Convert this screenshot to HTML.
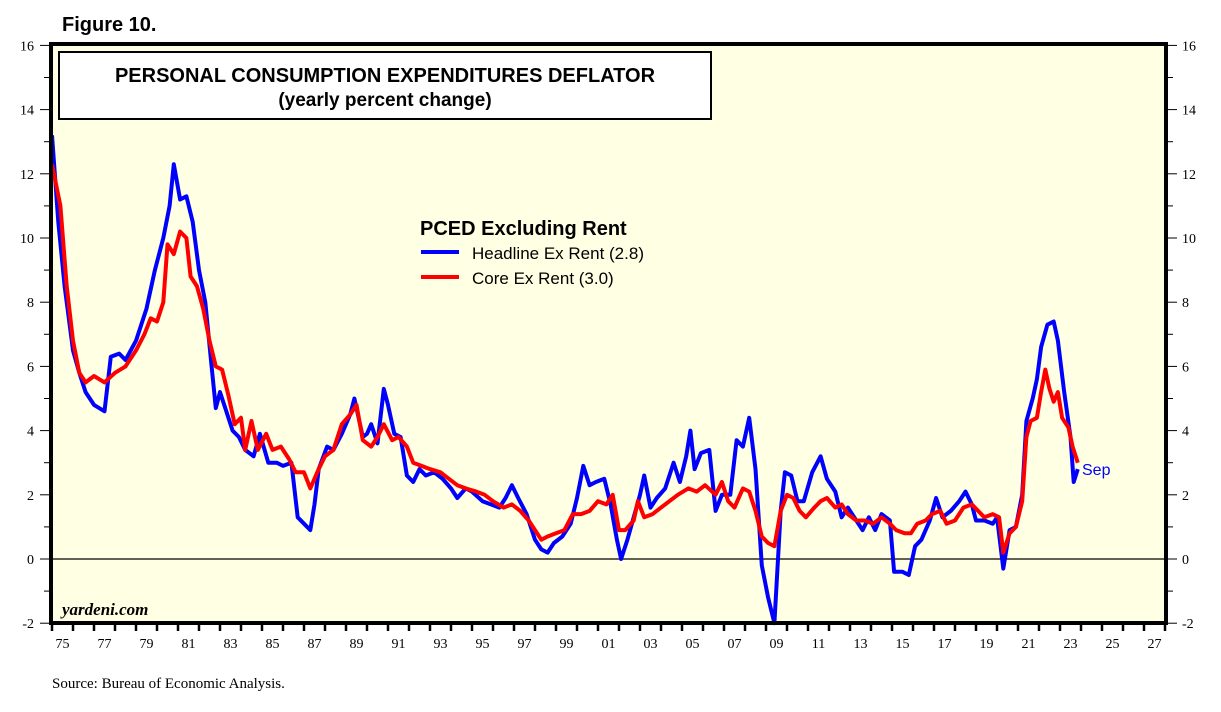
<!DOCTYPE html>
<html><head><meta charset="utf-8"><style>
body{margin:0;background:#fff;width:1221px;height:712px;overflow:hidden}
svg{display:block}
</style></head><body>
<svg id="chart" width="1221" height="712" xmlns="http://www.w3.org/2000/svg">
<rect x="51" y="44" width="1115" height="579" fill="#FFFFE3"/>
<g id="grid"></g>
<g id="series"></g>
<rect x="51" y="44" width="1115" height="579" fill="none" stroke="#000" stroke-width="4"/>
<g id="axes"></g>
<text x="62" y="31" font-family="Liberation Sans, sans-serif" font-weight="bold" font-size="20">Figure 10.</text>
<rect x="59" y="52" width="652" height="67" fill="#fff" stroke="#000" stroke-width="2"/>
<text x="385" y="82" text-anchor="middle" font-family="Liberation Sans, sans-serif" font-weight="bold" font-size="20">PERSONAL CONSUMPTION EXPENDITURES DEFLATOR</text>
<text x="385" y="106" text-anchor="middle" font-family="Liberation Sans, sans-serif" font-weight="bold" font-size="19">(yearly percent change)</text>
<text x="420" y="235" font-family="Liberation Sans, sans-serif" font-weight="bold" font-size="20">PCED Excluding Rent</text>
<line x1="421" y1="252" x2="459" y2="252" stroke="#0000ff" stroke-width="4"/>
<text x="472" y="259" font-family="Liberation Sans, sans-serif" font-size="17">Headline Ex Rent (2.8)</text>
<line x1="421" y1="277" x2="459" y2="277" stroke="#ff0000" stroke-width="4"/>
<text x="472" y="284" font-family="Liberation Sans, sans-serif" font-size="17">Core Ex Rent (3.0)</text>
<text x="1082" y="475" fill="#0000ff" font-family="Liberation Sans, sans-serif" font-size="16">Sep</text>
<text x="62" y="615" font-family="Liberation Serif, serif" font-style="italic" font-weight="bold" font-size="17">yardeni.com</text>
<text x="52" y="688" font-family="Liberation Serif, serif" font-size="15">Source: Bureau of Economic Analysis.</text>
</svg>
<script>
const hlT=[1975.0,1975.3,1975.6,1976.0,1976.3,1976.6,1977.0,1977.5,1977.8,1978.2,1978.5,1979.0,1979.5,1979.9,1980.3,1980.6,1980.8,1981.1,1981.4,1981.7,1982.0,1982.3,1982.6,1982.8,1983.0,1983.3,1983.6,1983.9,1984.2,1984.6,1984.9,1985.3,1985.7,1986.0,1986.4,1986.7,1987.0,1987.3,1987.5,1987.7,1988.1,1988.4,1988.8,1989.2,1989.4,1989.8,1990.0,1990.2,1990.5,1990.8,1991.0,1991.3,1991.6,1991.9,1992.2,1992.5,1992.8,1993.2,1993.6,1994.0,1994.3,1994.7,1995.0,1995.5,1995.9,1996.3,1996.6,1996.9,1997.2,1997.6,1998.0,1998.3,1998.6,1998.9,1999.3,1999.7,2000.0,2000.3,2000.6,2000.9,2001.3,2001.6,2001.9,2002.1,2002.4,2002.7,2003.0,2003.2,2003.5,2003.8,2004.2,2004.6,2004.9,2005.2,2005.4,2005.6,2005.9,2006.3,2006.6,2006.9,2007.3,2007.6,2007.9,2008.2,2008.5,2008.8,2009.1,2009.4,2009.7,2009.9,2010.2,2010.5,2010.8,2011.2,2011.6,2011.9,2012.3,2012.6,2012.9,2013.3,2013.6,2013.9,2014.2,2014.5,2014.9,2015.1,2015.5,2015.8,2016.1,2016.4,2016.8,2017.1,2017.4,2017.8,2018.2,2018.5,2018.8,2019.0,2019.4,2019.8,2020.0,2020.3,2020.6,2020.9,2021.2,2021.4,2021.7,2021.9,2022.1,2022.4,2022.7,2022.9,2023.2,2023.5,2023.65,2023.85];
const hlV=[13.2,10.5,8.5,6.5,5.8,5.2,4.8,4.6,6.3,6.4,6.2,6.8,7.8,9.0,10.0,11.0,12.3,11.2,11.3,10.5,9.0,8.0,6.0,4.7,5.2,4.6,4.0,3.8,3.4,3.2,3.9,3.0,3.0,2.9,3.0,1.3,1.1,0.9,1.7,2.8,3.5,3.4,3.9,4.5,5.0,3.8,3.9,4.2,3.6,5.3,4.8,3.9,3.8,2.6,2.4,2.8,2.6,2.7,2.5,2.2,1.9,2.2,2.1,1.8,1.7,1.6,1.9,2.3,1.9,1.4,0.6,0.3,0.2,0.5,0.7,1.1,1.9,2.9,2.3,2.4,2.5,1.7,0.6,0.0,0.6,1.3,2.0,2.6,1.6,1.9,2.2,3.0,2.4,3.2,4.0,2.8,3.3,3.4,1.5,2.0,2.0,3.7,3.5,4.4,2.8,-0.2,-1.2,-2.0,1.5,2.7,2.6,1.8,1.8,2.7,3.2,2.5,2.1,1.3,1.6,1.2,0.9,1.3,0.9,1.4,1.2,-0.4,-0.4,-0.5,0.4,0.6,1.2,1.9,1.3,1.5,1.8,2.1,1.7,1.2,1.2,1.1,1.3,-0.3,0.9,1.0,2.0,4.3,5.0,5.6,6.6,7.3,7.4,6.8,5.2,3.8,2.4,2.8];
const coT=[1975.0,1975.4,1975.7,1976.0,1976.3,1976.6,1977.0,1977.5,1978.0,1978.5,1979.0,1979.4,1979.7,1980.0,1980.3,1980.5,1980.8,1981.1,1981.4,1981.6,1981.9,1982.2,1982.5,1982.8,1983.1,1983.4,1983.7,1984.0,1984.2,1984.5,1984.8,1985.2,1985.5,1985.9,1986.3,1986.6,1987.0,1987.3,1987.7,1988.0,1988.4,1988.8,1989.2,1989.5,1989.8,1990.2,1990.5,1990.8,1991.2,1991.5,1991.9,1992.2,1992.6,1993.0,1993.5,1993.9,1994.3,1994.7,1995.2,1995.6,1996.0,1996.5,1996.9,1997.3,1997.7,1998.0,1998.3,1998.6,1999.0,1999.4,1999.8,2000.2,2000.6,2001.0,2001.4,2001.7,2002.0,2002.3,2002.7,2002.9,2003.2,2003.6,2004.0,2004.4,2004.8,2005.3,2005.7,2006.1,2006.6,2006.9,2007.2,2007.5,2007.9,2008.2,2008.5,2008.8,2009.1,2009.4,2009.7,2010.0,2010.3,2010.6,2010.9,2011.3,2011.6,2011.9,2012.3,2012.6,2012.9,2013.3,2013.7,2014.1,2014.5,2014.9,2015.2,2015.6,2015.9,2016.2,2016.6,2016.9,2017.3,2017.6,2018.0,2018.4,2018.8,2019.1,2019.4,2019.8,2020.1,2020.3,2020.6,2020.9,2021.2,2021.4,2021.6,2021.9,2022.1,2022.3,2022.5,2022.7,2022.9,2023.1,2023.4,2023.6,2023.85];
const coV=[12.3,11.0,8.5,6.8,5.8,5.5,5.7,5.5,5.8,6.0,6.5,7.0,7.5,7.4,8.0,9.8,9.5,10.2,10.0,8.8,8.5,7.8,6.8,6.0,5.9,5.1,4.2,4.4,3.4,4.3,3.4,3.9,3.4,3.5,3.1,2.7,2.7,2.2,2.8,3.2,3.4,4.2,4.5,4.8,3.7,3.5,3.8,4.2,3.7,3.8,3.5,3.0,2.9,2.8,2.7,2.5,2.3,2.2,2.1,2.0,1.8,1.6,1.7,1.5,1.2,0.9,0.6,0.7,0.8,0.9,1.4,1.4,1.5,1.8,1.7,2.0,0.9,0.9,1.2,1.8,1.3,1.4,1.6,1.8,2.0,2.2,2.1,2.3,2.0,2.4,1.8,1.6,2.2,2.1,1.5,0.7,0.5,0.4,1.5,2.0,1.9,1.5,1.3,1.6,1.8,1.9,1.6,1.7,1.4,1.2,1.2,1.1,1.3,1.1,0.9,0.8,0.8,1.1,1.2,1.4,1.5,1.1,1.2,1.6,1.7,1.5,1.3,1.4,1.3,0.2,0.8,1.0,1.8,3.8,4.3,4.4,5.2,5.9,5.3,4.9,5.2,4.4,4.1,3.5,3.0];
const yTicks=[-2,0,2,4,6,8,10,12,14,16];
const xLabels=["75","77","79","81","83","85","87","89","91","93","95","97","99","01","03","05","07","09","11","13","15","17","19","21","23","25","27"];

const NS="http://www.w3.org/2000/svg";
const X0=52,PX=21,Y0=559,PY=32.1;
function xs(t){return X0+(t-1975)*PX;}
function ys(v){return Y0-v*PY;}
function mk(tag,attrs,parent){const e=document.createElementNS(NS,tag);for(const k in attrs)e.setAttribute(k,attrs[k]);parent.appendChild(e);return e;}
const axes=document.getElementById('axes'),grid=document.getElementById('grid'),series=document.getElementById('series');

const zl=mk('line',{x1:51,x2:1166,y1:ys(0),y2:ys(0),stroke:'#000','stroke-width':1.2},grid);



for(let v=-2;v<=16;v++){
  const major=v%2===0;
  const l=mk('line',{x1:major?40:44,x2:51,y1:ys(v),y2:ys(v),stroke:'#000','stroke-width':1},axes);
  
  
  const r=mk('line',{x1:1166,x2:major?1177:1173,y1:ys(v),y2:ys(v),stroke:'#000','stroke-width':1},axes);
  
  
}
yTicks.forEach(v=>{
  const a=mk('text',{x:34,y:ys(v)+5,'text-anchor':'end','font-family':'Liberation Serif, serif','font-size':14},axes);
  a.textContent=v;
  
  
  const b=mk('text',{x:1182,y:ys(v)+5,'font-family':'Liberation Serif, serif','font-size':14},axes);
  b.textContent=v;
  
  
});
for(let yr=1975;yr<=2028;yr++){
  const t=mk('line',{x1:xs(yr),x2:xs(yr),y1:623,y2:631,stroke:'#000','stroke-width':2.5},axes);
  
  
}
xLabels.forEach((s,i)=>{
  const t=mk('text',{x:xs(1975+2*i+0.5),y:648,'text-anchor':'middle','font-family':'Liberation Serif, serif','font-size':14},axes);
  t.textContent=s;
  
  
});
function path(T,V,color,name){
  const d=T.map((t,i)=>(i?'L':'M')+xs(t).toFixed(1)+' '+ys(V[i]).toFixed(1)).join(' ');
  const p=mk('path',{d:d,fill:'none',stroke:color,'stroke-width':4,'stroke-linejoin':'round'},series);
  
  
}
path(hlT,hlV,'#0000ff','headline-ex-rent-line');
path(coT,coV,'#ff0000','core-ex-rent-line');
</script>
</body></html>
